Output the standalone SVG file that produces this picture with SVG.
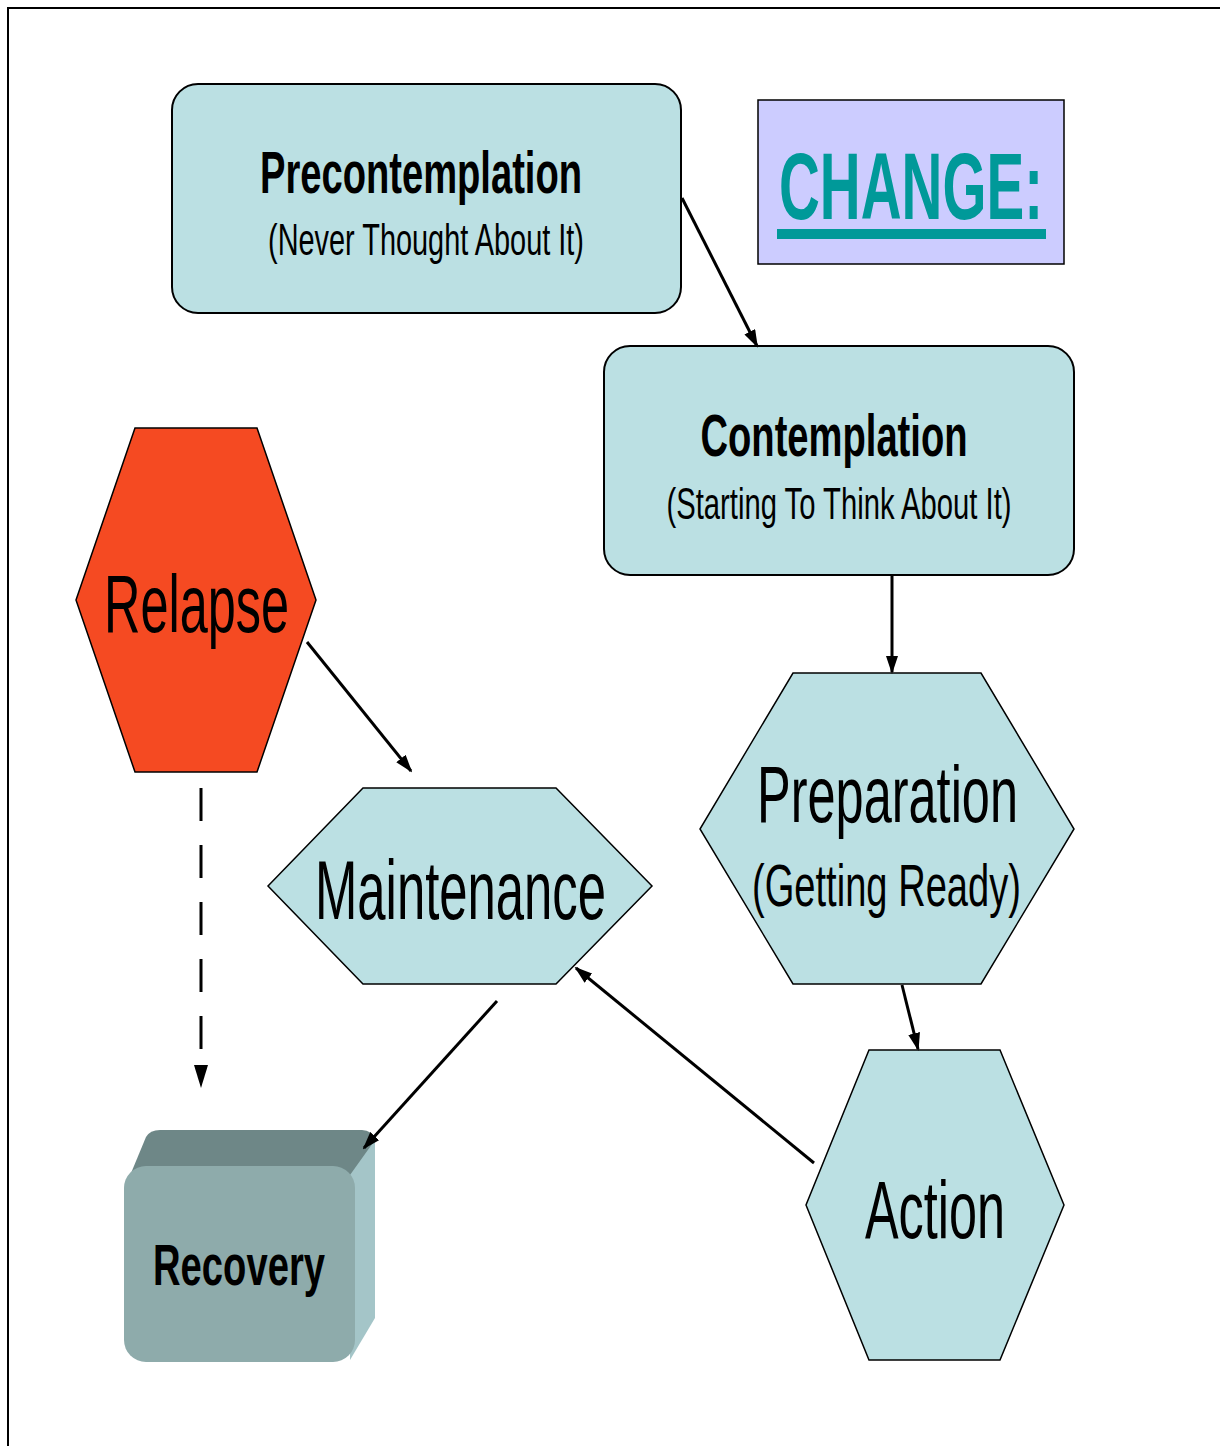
<svg xmlns="http://www.w3.org/2000/svg" width="1220" height="1446" viewBox="0 0 1220 1446">
  <style>
    .box { fill: #BBE0E3; stroke: #000; stroke-width: 2; }
    .hex { fill: #BBE0E3; stroke: #000; stroke-width: 1.5; }
    .t { font-family: "Liberation Sans Narrow", "Liberation Sans", Arial, sans-serif; fill: #000; text-anchor: middle; }
    .b { font-weight: bold; }
    .conn { stroke: #000; stroke-width: 3; fill: none; }
  </style>
  <defs>
    <marker id="ah" markerUnits="userSpaceOnUse" markerWidth="18" markerHeight="12" refX="16" refY="6" orient="auto">
      <path d="M0,0 L18,6 L0,12 Z" fill="#000"/>
    </marker>
    <marker id="ahd" markerUnits="userSpaceOnUse" markerWidth="24" markerHeight="14" refX="0" refY="7" orient="auto">
      <path d="M0,0 L23,7 L0,14 Z" fill="#000"/>
    </marker>
  </defs>
  <rect x="0" y="0" width="1220" height="1446" fill="#fff"/>
  <rect x="8" y="8" width="1240" height="1460" fill="none" stroke="#000" stroke-width="2"/>

  <g id="precontemplation">
    <rect class="box" x="172" y="84" width="509" height="229" rx="26"/>
    <text class="t b" x="421" y="193" font-size="60" textLength="322" lengthAdjust="spacingAndGlyphs">Precontemplation</text>
    <text class="t" x="426" y="255" font-size="44" textLength="316" lengthAdjust="spacingAndGlyphs">(Never Thought About It)</text>
  </g>

  <g id="change">
    <rect x="758" y="100" width="306" height="164" fill="#CCCCFF" stroke="#000" stroke-width="1.5"/>
    <text class="t b" x="911" y="219" font-size="94" style="fill:#009999" textLength="264" lengthAdjust="spacingAndGlyphs">CHANGE:</text>
    <rect x="777" y="229" width="269" height="10" fill="#009999"/>
  </g>

  <g id="contemplation">
    <rect class="box" x="604" y="346" width="470" height="229" rx="26"/>
    <text class="t b" x="834" y="456" font-size="60" textLength="267" lengthAdjust="spacingAndGlyphs">Contemplation</text>
    <text class="t" x="839" y="519" font-size="44" textLength="345" lengthAdjust="spacingAndGlyphs">(Starting To Think About It)</text>
  </g>

  <g id="relapse">
    <polygon points="135,428 257,428 316,600 257,772 135,772 76,600" fill="#F54A22" stroke="#000" stroke-width="1.5"/>
    <text class="t" x="196.5" y="632" font-size="82" textLength="185" lengthAdjust="spacingAndGlyphs">Relapse</text>
  </g>

  <g id="maintenance">
    <polygon class="hex" points="363,788 556,788 652,886 556,984 363,984 268,886"/>
    <text class="t" x="460.5" y="919" font-size="84" textLength="291" lengthAdjust="spacingAndGlyphs">Maintenance</text>
  </g>

  <g id="preparation">
    <polygon class="hex" points="793,673 981,673 1074,829 981,984 793,984 700,829"/>
    <text class="t" x="887.5" y="822" font-size="80" textLength="261" lengthAdjust="spacingAndGlyphs">Preparation</text>
    <text class="t" x="886.5" y="906" font-size="60" textLength="269" lengthAdjust="spacingAndGlyphs">(Getting Ready)</text>
  </g>

  <g id="action">
    <polygon class="hex" points="869,1050 1000,1050 1064,1205 1000,1360 869,1360 806,1205"/>
    <text class="t" x="935" y="1238" font-size="82" textLength="140" lengthAdjust="spacingAndGlyphs">Action</text>
  </g>

  <g id="recovery">
    <path d="M124,1190 L146,1137 Q150,1130 160,1130 L362,1130 Q372,1130 375,1140 L355,1190 Z" fill="#6E8787"/>
    <path d="M350,1175 L375,1140 L375,1318 L350,1360 Z" fill="#A4C5C8"/>
    <rect x="124" y="1166" width="231" height="196" rx="22" fill="#8EABAB"/>
    <text class="t b" x="239" y="1285" font-size="58" textLength="172" lengthAdjust="spacingAndGlyphs">Recovery</text>
  </g>

  <g id="connectors">
    <line class="conn" x1="682" y1="198" x2="757" y2="346" marker-end="url(#ah)"/>
    <line class="conn" x1="892" y1="576" x2="892" y2="672" marker-end="url(#ah)"/>
    <line class="conn" x1="902" y1="985" x2="918" y2="1049" marker-end="url(#ah)"/>
    <line class="conn" x1="814" y1="1163" x2="576" y2="968" marker-end="url(#ah)"/>
    <line class="conn" x1="497" y1="1001" x2="364" y2="1148" marker-end="url(#ah)"/>
    <line class="conn" x1="307" y1="642" x2="411" y2="771" marker-end="url(#ah)"/>
    <line class="conn" x1="201" y1="788" x2="201" y2="1065" stroke-dasharray="33 24" marker-end="url(#ahd)"/>
  </g>
</svg>
